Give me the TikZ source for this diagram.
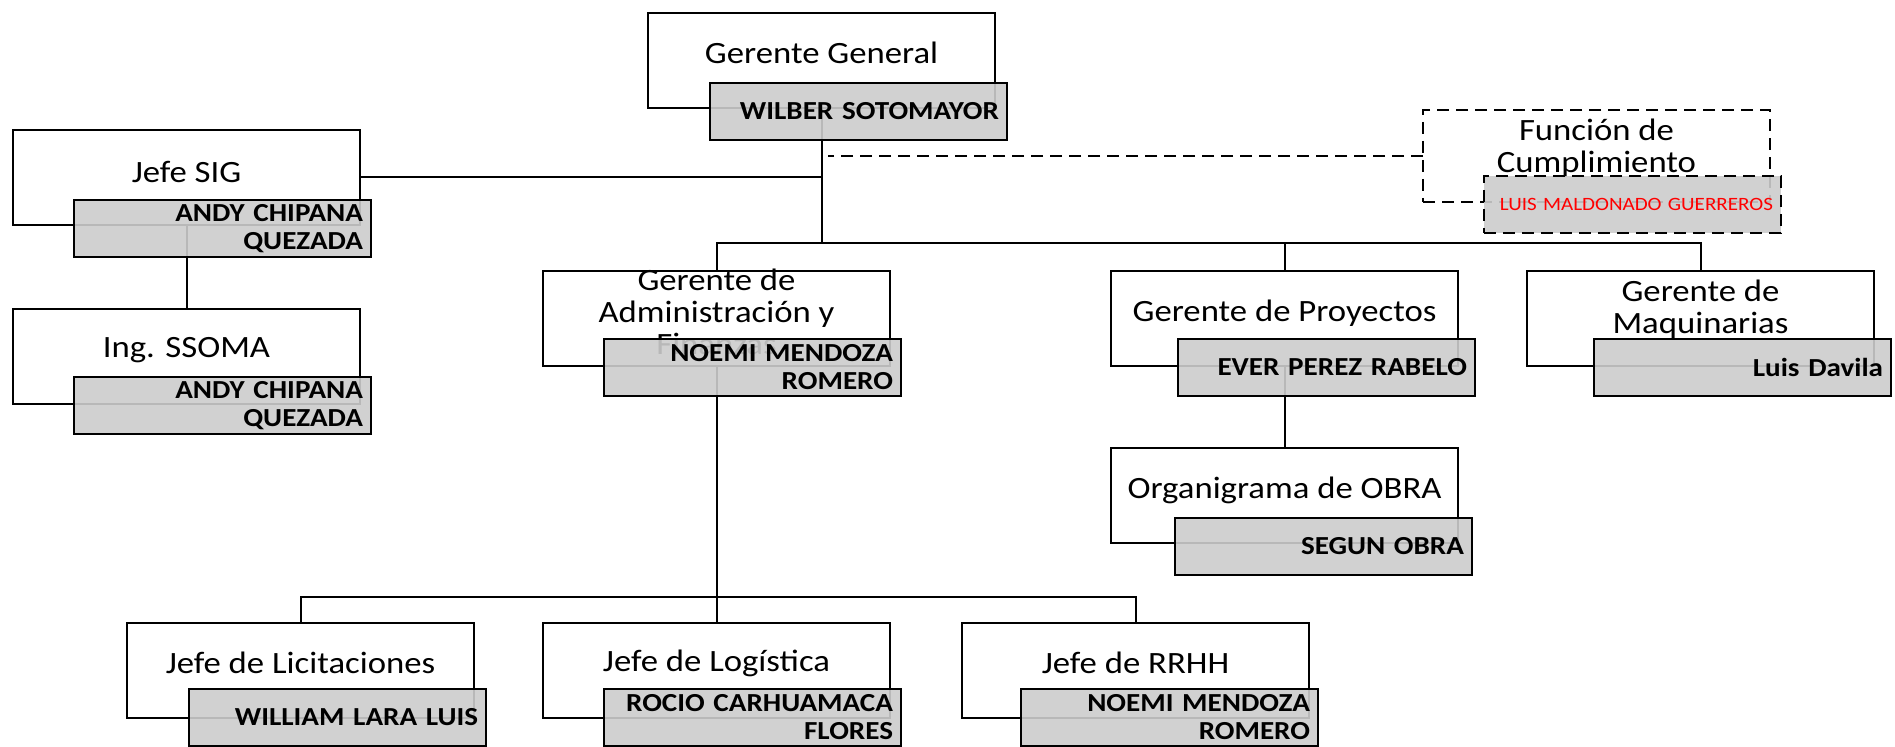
\documentclass[tikz,border=0pt]{standalone}
\usepackage{fontspec}
\setmainfont{Carlito}[FakeStretch=1.12]
\begin{document}
\begin{tikzpicture}[x=0.5pt,y=-0.5pt,
  wbox/.style={draw, line width=1.1pt, fill=white, minimum width=173.5pt,
    minimum height=47.5pt, anchor=north west, outer sep=0pt, inner sep=0pt},
  gbox/.style={draw, line width=1.1pt, fill=black!20, fill opacity=0.9,
    text opacity=1, anchor=north west, outer sep=0pt, minimum height=28.5pt,
    text width=140.5pt, inner xsep=4pt, inner ysep=0pt, align=right,
    font=\fontsize{13}{14}\selectfont\bfseries},
  ttl/.style={font=\fontsize{15.5}{16}\selectfont, align=center, inner sep=0pt},
  link/.style={line width=1pt},
  dashbox/.style={dash pattern=on 6pt off 3.5pt}]
\useasboundingbox (0,0) rectangle (1895,747);

% title boxes
\node[wbox] (gg)   at (648,13)  {};
\node[wbox] (sig)  at (13,130)  {};
\node[wbox] (ss)   at (13,309)  {};
\node[wbox] (adm)  at (543,271) {};
\node[wbox] (proy) at (1111,271) {};
\node[wbox] (maq)  at (1527,271) {};
\node[wbox] (obra) at (1111,448) {};
\node[wbox] (lic)  at (127,623) {};
\node[wbox] (log)  at (543,623) {};
\node[wbox] (rrhh) at (962,623) {};
\node[wbox, dashbox, minimum height=46pt] (fc) at (1423,110) {};

% titles
\node[ttl] (ggt)   at ([yshift=-20pt]gg.north)   {Gerente General};
\node[ttl] (sigt)  at ([yshift=-21pt]sig.north)  {Jefe SIG};
\node[ttl] (sst)   at ([yshift=-20.5pt]ss.north) {Ing. SSOMA};
\node[ttl] (admt)  at ([yshift=-20.5pt]adm.north) {Gerente de\\Administración y\\Finanzas};
\node[ttl] (proyt) at ([yshift=-21pt]proy.north) {Gerente de Proyectos};
\node[ttl] (maqt)  at ([yshift=-19pt]maq.north)  {Gerente de\\Maquinarias};
\node[ttl] (obrat) at ([yshift=-21pt]obra.north) {Organigrama de OBRA};
\node[ttl] (lict)  at ([yshift=-20pt]lic.north)  {Jefe de Licitaciones};
\node[ttl] (logt)  at ([yshift=-20pt]log.north)  {Jefe de Logística};
\node[ttl] (rrhht) at ([yshift=-20pt]rrhh.north) {Jefe de RRHH};
\node[ttl] (fct)   at ([yshift=-19pt]fc.north)   {Función de\\Cumplimiento};

% connectors
\coordinate (b2) at (0,243);
\coordinate (b3) at (0,597);
\draw[link] (gg.south) -- (gg.south |- b2);
\draw[link] (adm.north) |- (maq.north |- b2) -- (maq.north);
\draw[link] (proy.north) -- (proy.north |- b2);
\draw[link] (sig.east) -- (sig.east -| gg.south);
\draw[link, dashbox] (fc.west) -- ([xshift=3pt]fc.west -| gg.south);
\draw[link] (sig.south) -- (ss.north);
\draw[link] (proy.south) -- (obra.north);
\draw[link] (adm.south) -- (adm.south |- b3);
\draw[link] (lic.north) |- (rrhh.north |- b3) -- (rrhh.north);
\draw[link] (log.north) -- (log.north |- b3);

% name boxes
\node[gbox] (ggn)   at (710,83)   {WILBER SOTOMAYOR};
\node[gbox] (sign)  at (74,200)   {ANDY CHIPANA\\QUEZADA};
\node[gbox] (ssn)   at (74,377)   {ANDY CHIPANA\\QUEZADA};
\node[gbox] (admn)  at (604,339)  {NOEMI MENDOZA\\ROMERO};
\node[gbox] (proyn) at (1178,339) {EVER PEREZ RABELO};
\node[gbox] (maqn)  at (1594,339) {Luis Davila};
\node[gbox] (obran) at (1175,518) {SEGUN OBRA};
\node[gbox] (licn)  at (189,689)  {WILLIAM LARA LUIS};
\node[gbox] (logn)  at (604,689)  {ROCIO CARHUAMACA\\FLORES};
\node[gbox] (rrhhn) at (1021,689) {NOEMI MENDOZA\\ROMERO};
\node[gbox, dashbox, text=red, font=\fontsize{9.4}{11}\selectfont] (fcn) at (1484,176) {LUIS MALDONADO GUERREROS};
\end{tikzpicture}
\end{document}
